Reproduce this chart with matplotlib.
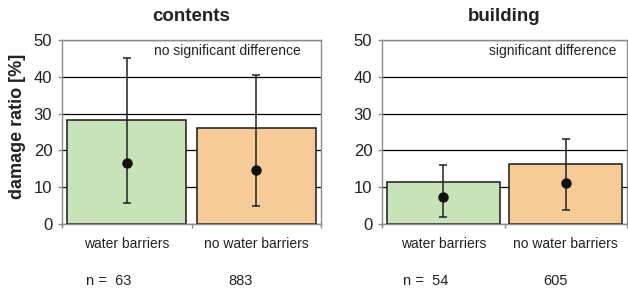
import matplotlib
matplotlib.use("Agg")
import matplotlib.pyplot as plt
import numpy as np

plt.rcParams['font.family'] = ['Liberation Sans', 'DejaVu Sans']

categories = ['water barriers', 'no water barriers']
panels = ['contents', 'building']
notes = ['no significant difference', 'significant difference']
n_counts = [[63, 883], [54, 605]]

# bar heights, dots and whisker ends per panel
bar_values = [[28.3, 26.2], [11.3, 16.2]]
dot_values = [[16.6, 14.7], [7.3, 11.1]]
err_low = [[5.8, 5.0], [1.8, 3.8]]
err_high = [[45.0, 40.5], [15.9, 23.0]]

colors = ['#c9e3b9', '#f6cb98']
spine_col = '#8c8c8c'

fig = plt.figure(figsize=(6.28, 2.9), dpi=100)
ax_pos = [[62 / 628, 66 / 290, 259 / 628, 184 / 290],
          [382 / 628, 66 / 290, 245 / 628, 184 / 290]]
note_x = [1.34, 1.41]
n_x = [[-0.315, 0.782], [-0.329, 0.817]]

for k in range(2):
    ax = fig.add_axes(ax_pos[k])
    x = np.arange(len(categories))
    ax.set_axisbelow(True)
    ax.yaxis.grid(True, color='black', linewidth=0.9)
    ax.bar(x, bar_values[k], width=0.92, color=colors, edgecolor='#1a1a1a', linewidth=1.1, zorder=2)
    lo = np.array(dot_values[k]) - np.array(err_low[k])
    hi = np.array(err_high[k]) - np.array(dot_values[k])
    ax.errorbar(x, dot_values[k], yerr=[lo, hi], fmt='o', color='#111111', ecolor='#222222',
                markersize=6.5, elinewidth=1.1, capsize=3, capthick=1.1, zorder=3)
    ax.set_xlim(-0.5, 1.5)
    ax.set_ylim(0, 50)
    ax.set_yticks([0, 10, 20, 30, 40, 50])
    ax.tick_params(axis='y', labelsize=12, length=3, color=spine_col, width=1, pad=4, labelcolor='#222222')
    ax.set_xticks([-0.5, 0.5, 1.5])
    ax.set_xticklabels([])
    ax.tick_params(axis='x', length=3, color=spine_col, width=1, direction='out')
    for s in ax.spines.values():
        s.set_color(spine_col)
        s.set_linewidth(1.0)
    for i, c in enumerate(categories):
        ax.text(x[i], -5.5, c, ha='center', va='center', fontsize=10, color='#222222', clip_on=False)
    ax.text(n_x[k][0], -15.6, 'n =  %d' % n_counts[k][0], ha='left', va='center', fontsize=10.5, color='#222222')
    ax.text(n_x[k][1], -15.6, '%d' % n_counts[k][1], ha='left', va='center', fontsize=10.5, color='#222222')
    ax.text(note_x[k], 47.0, notes[k], ha='right', va='center', fontsize=10, color='#222222')
    ax.text(0.5, 56.3, panels[k], ha='center', va='center', fontsize=13.5, fontweight='bold', color='#222222')

fig.text(17.5 / 628, 1 - 126 / 290, 'damage ratio [%]', rotation=90, ha='center', va='center',
         fontsize=13, fontweight='bold', color='#222222')

fig.savefig('out.png', dpi=100)
